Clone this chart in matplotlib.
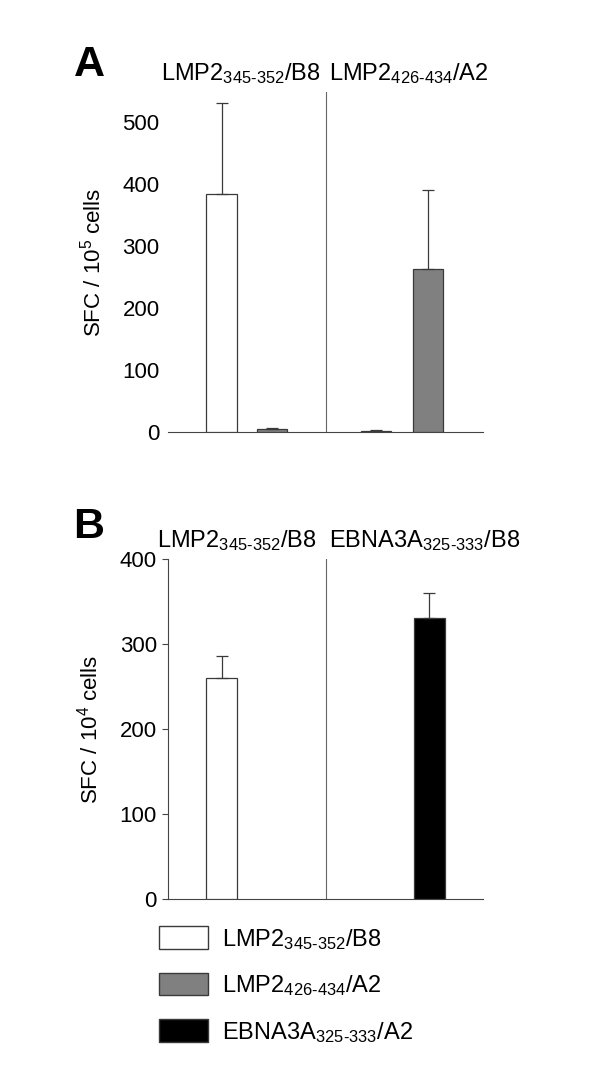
import matplotlib
matplotlib.use("Agg")
import matplotlib.pyplot as plt
from matplotlib.patches import Patch

plt.rcParams['font.family'] = ['Liberation Sans', 'DejaVu Sans']
plt.rcParams['mathtext.fontset'] = 'custom'
plt.rcParams['mathtext.rm'] = 'Liberation Sans'
plt.rcParams['mathtext.it'] = 'Liberation Sans'

# data
lab_b8 = r'LMP2$_{\text{345-352}}$/B8'
lab_a2 = r'LMP2$_{\text{426-434}}$/A2'
lab_ebna = r'EBNA3A$_{\text{325-333}}$/B8'
lab_ebna_leg = r'EBNA3A$_{\text{325-333}}$/A2'

# panel A: two groups, two bars each (white = B8 peptide, gray = A2 peptide)
a_groups = [lab_b8, lab_a2]
a_title_x = [0.46, 1.53]
a_pos = [0.34, 0.66, 1.32, 1.65]
a_vals = [383, 5, 2, 263]
a_err = [148, 2, 1, 127]
a_cols = ['white', '#808080', '#808080', '#808080']

# panel B
b_groups = [lab_b8, lab_ebna]
b_title_x = [0.44, 1.63]
b_pos = [0.34, 1.66]
b_vals = [260, 331]
b_err = [26, 29]
b_cols = ['white', 'black']

fig = plt.figure(figsize=(6, 10.69), dpi=100)
axA = fig.add_axes([0.28, 0.5959, 0.525, 0.318])
axB = fig.add_axes([0.28, 0.159, 0.525, 0.318])


def draw(ax, pos, vals, err, cols, groups, title_x, ymax, ticks, ylab, letter, letter_y, show_left):
    ax.bar(pos, vals, width=0.195, color=cols, edgecolor='#3a3a3a', linewidth=0.9,
           yerr=[[0] * len(err), err], error_kw=dict(ecolor='#3a3a3a', elinewidth=0.9,
                                                     capsize=4, capthick=0.9), zorder=3)
    ax.set_xlim(0, 2)
    ax.set_ylim(0, ymax)
    ax.set_yticks(ticks)
    ax.set_xticks([])
    ax.axvline(1, color='#666666', linewidth=0.8)
    for s in ['top', 'right']:
        ax.spines[s].set_visible(False)
    ax.spines['bottom'].set_color('#444444')
    ax.spines['left'].set_color('#444444')
    ax.spines['left'].set_visible(show_left)
    ax.tick_params(axis='y', labelsize=16, length=4 if show_left else 0,
                   color='#444444', pad=4 if show_left else 6)
    ax.set_ylabel(ylab, fontsize=16, labelpad=12)
    for tx, g in zip(title_x, groups):
        ax.text(tx, 1.035, g, transform=ax.get_xaxis_transform(),
                ha='center', va='baseline', fontsize=17)
    ax.text(-0.3, letter_y, letter, transform=ax.transAxes, fontsize=31,
            fontweight='bold', ha='left', va='baseline')


draw(axA, a_pos, a_vals, a_err, a_cols, a_groups, a_title_x, 548, [0, 100, 200, 300, 400, 500],
     r'SFC / 10$^{5}$ cells', 'A', 1.048, False)
draw(axB, b_pos, b_vals, b_err, b_cols, b_groups, b_title_x, 400, [0, 100, 200, 300, 400],
     r'SFC / 10$^{4}$ cells', 'B', 1.062, True)

handles = [Patch(facecolor='white', edgecolor='#3a3a3a', linewidth=1.0),
           Patch(facecolor='#808080', edgecolor='#3a3a3a', linewidth=1.0),
           Patch(facecolor='black', edgecolor='#3a3a3a', linewidth=1.0)]
fig.legend(handles, [lab_b8, lab_a2, lab_ebna_leg], loc='upper left',
           bbox_to_anchor=(0.265, 0.1335), frameon=False, fontsize=17,
           borderaxespad=0, borderpad=0,
           handlelength=2.08, handleheight=1.1, labelspacing=0.9, handletextpad=0.6)

plt.savefig('out.png', dpi=100)
